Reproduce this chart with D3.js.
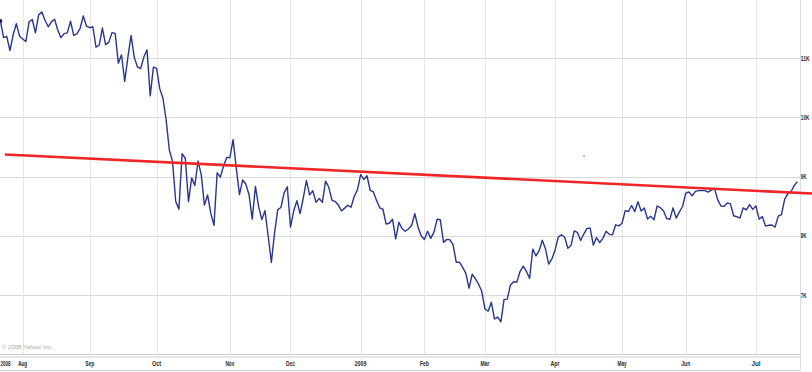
<!DOCTYPE html>
<html><head><meta charset="utf-8">
<script src="https://cdn.jsdelivr.net/npm/d3@7"></script>
<style>body{margin:0;background:#fff;overflow:hidden}</style>
</head><body>
<svg id="c" width="812" height="372"></svg>
<script>
// ---- data ----
const monthKeys = ["2008-07","2008-08","2008-09","2008-10","2008-11","2008-12","2009-01","2009-02","2009-03","2009-04","2009-05","2009-06","2009-07"];
const monthDays = [
 [23,24,25,28,29,30,31],
 [1,4,5,6,7,8,11,12,13,14,15,18,19,20,21,22,25,26,27,28,29],
 [2,3,4,5,8,9,10,11,12,15,16,17,18,19,22,23,24,25,26,29,30],
 [1,2,3,6,7,8,9,10,13,14,15,16,17,20,21,22,23,24,27,28,29,30,31],
 [3,4,5,6,7,10,11,12,13,14,17,18,19,20,21,24,25,26,28],
 [1,2,3,4,5,8,9,10,11,12,15,16,17,18,19,22,23,24,26,29,30,31],
 [2,5,6,7,8,9,12,13,14,15,16,20,21,22,23,26,27,28,29,30],
 [2,3,4,5,6,9,10,11,12,13,17,18,19,20,23,24,25,26,27],
 [2,3,4,5,6,9,10,11,12,13,16,17,18,19,20,23,24,25,26,27,30,31],
 [1,2,3,6,7,8,9,13,14,15,16,17,20,21,22,23,24,27,28,29,30],
 [1,4,5,6,7,8,11,12,13,14,15,18,19,20,21,22,26,27,28,29],
 [1,2,3,4,5,8,9,10,11,12,15,16,17,18,19,22,23,24,25,26,29,30],
 [1,2,6,7,8,9,10,13,14,15,16,17,20,21]
];
const closes = [
 11632,11349,11371,11131,11398,11584,11378,
 11326,11284,11616,11656,11431,11734,11782,11642,11533,11616,11660,11479,11349,11417,11430,11628,11386,11413,11503,11715,11544,
 11517,11533,11188,11221,11511,11231,11269,11434,11422,10918,11059,10610,11020,11388,11016,10854,10825,11022,11143,10365,10851,
 10831,10483,10325,9956,9447,9258,8579,8451,9388,9311,8578,8979,8852,9265,9034,8519,8691,8379,8176,9065,8991,9181,9325,
 9320,9625,9139,8696,8944,8871,8694,8283,8835,8497,8274,8425,7997,7552,8046,8443,8479,8727,8829,
 8149,8419,8592,8376,8635,8934,8691,8761,8565,8630,8565,8924,8824,8605,8579,8520,8419,8468,8516,8484,8668,8776,
 9035,8953,9015,8770,8742,8599,8474,8449,8200,8212,8281,7949,8228,8123,8078,8116,8175,8375,8149,8001,
 7937,8078,7957,8063,8281,8271,7889,7940,7933,7850,7553,7556,7466,7366,7115,7351,7271,7182,7063,
 6763,6726,6876,6594,6627,6547,6926,6930,7170,7224,7217,7396,7487,7401,7278,7776,7660,7750,7925,7776,7522,7609,
 7762,7978,8018,7976,7790,7837,8083,8058,7920,8030,8125,8131,7842,7970,7887,7957,8076,8025,8017,8186,8168,
 8212,8427,8411,8512,8410,8575,8419,8469,8285,8331,8269,8504,8475,8422,8292,8277,8473,8300,8404,8500,
 8721,8741,8675,8750,8763,8764,8763,8739,8771,8799,8612,8505,8497,8556,8540,8339,8323,8300,8472,8438,8529,8447,
 8504,8281,8325,8164,8178,8183,8147,8332,8359,8616,8712,8744,8848,8916
];
const monthLabels = ["", "Aug","Sep","Oct","Nov","Dec","2009","Feb","Mar","Apr","May","Jun","Jul"];
const firstYearLabel = "2008";
const yTicks = [7000, 8000, 9000, 10000, 11000];
const yTickLabels = ["7K","8K","9K","10K","11K"];
// trend line endpoints, as (trading-day index, value)
const trendIdx = [1.45, 254.6];
const trendVal = [9375, 8715];
const markIdx = [183.1];
const markVal = [9343];

// ---- build ----
const dates = [];
monthKeys.forEach((k, mi) => monthDays[mi].forEach(d => dates.push(k + "-" + String(d).padStart(2, "0"))));
const series = closes.map((v, i) => ({i, v, date: dates[i]}));
const monthStart = monthKeys.map((k) => dates.findIndex(d => d.startsWith(k)));

const svg = d3.select("#c");
const plotR = 800, plotB = 354.5;
const x = d3.scaleLinear().domain([0, 251]).range([0.38, 0.38 + 3.188 * 251]);
const y = d3.scaleLinear().domain([7000, 11000]).range([295, 58.3]);

// grid
svg.append("g").selectAll("line").data(yTicks).join("line")
  .attr("x1", 0).attr("x2", plotR)
  .attr("y1", d => Math.round(y(d)) + 0.5).attr("y2", d => Math.round(y(d)) + 0.5)
  .attr("stroke", "#d9d9d9").attr("stroke-width", 1);
svg.append("g").selectAll("line").data(monthStart.slice(1)).join("line")
  .attr("x1", d => Math.round(x(d)) + 0.5).attr("x2", d => Math.round(x(d)) + 0.5)
  .attr("y1", 0).attr("y2", plotB)
  .attr("stroke", "#e6e6e6").attr("stroke-width", 1);

// frame
svg.append("line").attr("x1", plotR + 0.5).attr("x2", plotR + 0.5).attr("y1", 0).attr("y2", 370.5)
  .attr("stroke", "#dcdcdc");
[plotB, plotB + 2.5, 370.5].forEach(yy => svg.append("line")
  .attr("x1", 0).attr("x2", plotR).attr("y1", yy).attr("y2", yy).attr("stroke", "#cfcfcf"));

// y labels
const lab = "font-family:'Liberation Sans Narrow','Liberation Sans',sans-serif;font-weight:bold;font-size:7.5px;fill:#2a2a2a";
const ylab = "font-family:'Liberation Sans Narrow','Liberation Sans',sans-serif;font-weight:bold;font-size:6.8px;fill:#2a2a2a";
svg.append("g").selectAll("text").data(yTicks).join("text")
  .attr("x", 800.8).attr("y", d => y(d) + 2.6)
  .attr("style", ylab)
  .attr("textLength", (d, i) => yTickLabels[i].length * 2.9)
  .attr("lengthAdjust", "spacingAndGlyphs")
  .text((d, i) => yTickLabels[i]);

// x labels
const xl = monthStart.map((s, i) => ({s, t: monthLabels[i]})).filter(d => d.t);
svg.append("g").selectAll("text").data(xl).join("text")
  .attr("x", d => x(d.s)).attr("y", 366)
  .attr("text-anchor", "middle")
  .attr("style", lab)
  .attr("textLength", d => d.t.length * 3.0)
  .attr("lengthAdjust", "spacingAndGlyphs")
  .text(d => d.t);
svg.append("text").attr("x", 0.5).attr("y", 366)
  .attr("style", lab).attr("textLength", 10).attr("lengthAdjust", "spacingAndGlyphs")
  .text(firstYearLabel);

// copyright
svg.append("text").attr("x", 2).attr("y", 348.5)
  .attr("style", "font-family:'Liberation Sans Narrow','Liberation Sans',sans-serif;font-size:6px;fill:#aaa")
  .text("© 2008 Yahoo! Inc.");

// price line
svg.append("path").datum(series)
  .attr("d", d3.line().x(d => x(d.i)).y(d => y(d.v)))
  .attr("fill", "none").attr("stroke", "#28368e").attr("stroke-width", 1.4)
  .attr("stroke-linejoin", "round");
svg.append("circle").attr("cx", x(series[0].i)).attr("cy", y(series[0].v)).attr("r", 2)
  .attr("fill", "#1a2466");

// trend line
svg.append("line")
  .attr("x1", x(trendIdx[0])).attr("y1", y(trendVal[0]))
  .attr("x2", x(trendIdx[1])).attr("y2", y(trendVal[1]))
  .attr("stroke", "#f02626").attr("stroke-width", 2.6);
svg.append("g").selectAll("circle").data(markIdx).join("circle")
  .attr("cx", d => x(d)).attr("cy", (d, i) => y(markVal[i])).attr("r", 0.9)
  .attr("fill", "#e86a6a");
</script>
</body></html>
